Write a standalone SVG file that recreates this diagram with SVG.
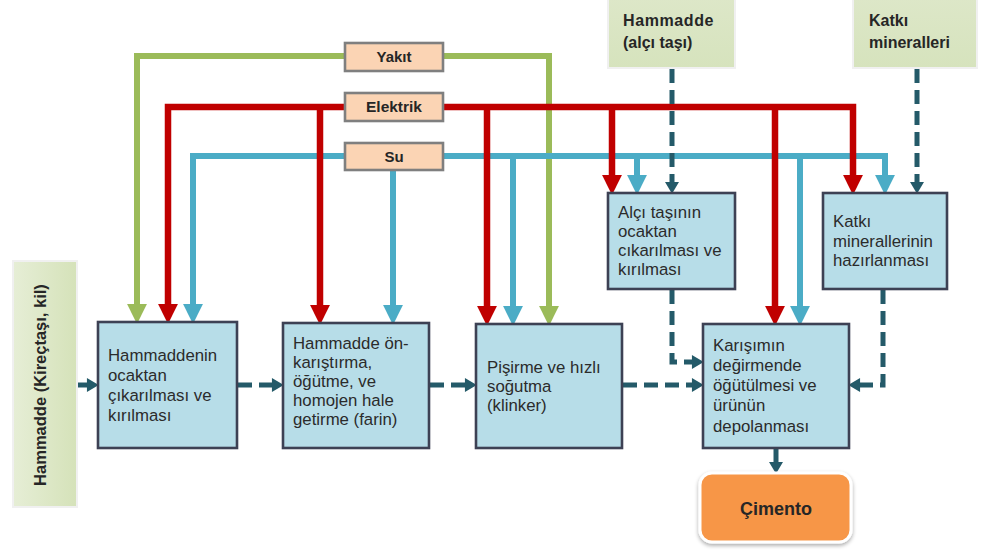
<svg xmlns="http://www.w3.org/2000/svg" width="984" height="551" viewBox="0 0 984 551">
  <defs>
    <linearGradient id="srcFill" x1="0" y1="0" x2="1" y2="0">
      <stop offset="0" stop-color="#e6eed6"/>
      <stop offset="1" stop-color="#d5e2b9"/>
    </linearGradient>
    <linearGradient id="srcFillV" x1="0" y1="0" x2="0" y2="1">
      <stop offset="0" stop-color="#dde7c8"/>
      <stop offset="1" stop-color="#d6e3bd"/>
    </linearGradient>
    <filter id="soft" x="-10%" y="-10%" width="120%" height="130%">
      <feGaussianBlur in="SourceAlpha" stdDeviation="2"/>
      <feOffset dx="0" dy="2"/>
      <feComponentTransfer><feFuncA type="linear" slope="0.35"/></feComponentTransfer>
      <feMerge><feMergeNode/><feMergeNode in="SourceGraphic"/></feMerge>
    </filter>
    <marker id="ahGreen" markerUnits="userSpaceOnUse" markerWidth="20" markerHeight="20" viewBox="0 0 18 18" refX="1" refY="9" orient="auto">
      <path d="M0,0 L18,9 L0,18 z" fill="#9bbb59"/>
    </marker>
    <marker id="ahRed" markerUnits="userSpaceOnUse" markerWidth="20" markerHeight="20" viewBox="0 0 18 18" refX="1" refY="9" orient="auto">
      <path d="M0,0 L18,9 L0,18 z" fill="#c00000"/>
    </marker>
    <marker id="ahBlue" markerUnits="userSpaceOnUse" markerWidth="20" markerHeight="20" viewBox="0 0 18 18" refX="1" refY="9" orient="auto">
      <path d="M0,0 L18,9 L0,18 z" fill="#4bacc6"/>
    </marker>
    <marker id="ahDark" markerUnits="userSpaceOnUse" markerWidth="14" markerHeight="14" viewBox="0 0 11 13" refX="1" refY="6.5" orient="auto">
      <path d="M0,0 L11,6.5 L0,13 z" fill="#245a69"/>
    </marker>
  </defs>
  <style>
    .proc { fill: #b7dde8; stroke: #3d4154; stroke-width: 2.6; }
    .src { stroke: #f0f0f0; stroke-width: 2; }
    .util { fill: #fbd4b4; stroke: #7f7f7f; stroke-width: 2.6; }
    .t { font-family: "Liberation Sans", Arial, sans-serif; font-size: 16.8px; fill: #2b2b2b; }
    .b { font-family: "Liberation Sans", Arial, sans-serif; font-weight: bold; fill: #262626; }
    .green { fill: none; stroke: #9bbb59; stroke-width: 6; marker-end: url(#ahGreen); }
    .red { fill: none; stroke: #c00000; stroke-width: 6.5; marker-end: url(#ahRed); }
    .blue { fill: none; stroke: #4bacc6; stroke-width: 6; marker-end: url(#ahBlue); }
    .flow { fill: none; stroke: #245a69; stroke-width: 5; stroke-dasharray: 14 7; marker-end: url(#ahDark); }
    .solid { fill: none; stroke: #245a69; stroke-width: 5; marker-end: url(#ahDark); }
  </style>

  <rect width="984" height="551" fill="#ffffff"/>

  <!-- utility feed lines: fuel, electricity, water -->
  <g id="connectors">
    <g id="fuel-lines">
      <path class="green" d="M345,56 H137 V305"/>
      <path class="green" d="M443,56 H549 V307"/>
    </g>
    <g id="water-lines">
      <path class="blue" d="M345,156 H193 V305"/>
      <path class="blue" d="M443,156 H885 V176"/>
      <path class="blue" d="M393,170 V306"/>
      <path class="blue" d="M513,156 V307"/>
      <path class="blue" d="M637,156 V176"/>
      <path class="blue" d="M800,156 V307"/>
    </g>
    <g id="power-lines">
      <path class="red" d="M345,107 H168 V305"/>
      <path class="red" d="M443,107 H853 V176"/>
      <path class="red" d="M320,107 V306"/>
      <path class="red" d="M487,107 V307"/>
      <path class="red" d="M612,107 V176"/>
      <path class="red" d="M775,107 V307"/>
    </g>
    <g id="material-flow">
      <path class="solid" d="M78,385 H88"/>
      <path class="flow" d="M238,385 H273"/>
      <path class="flow" d="M430,385 H466"/>
      <path class="flow" d="M623,385 H693"/>
      <path class="flow" d="M672,69 V183"/>
      <path class="flow" d="M917,69 V183"/>
      <path class="flow" d="M672,290 V362 H693"/>
      <path class="flow" d="M883,290 V385 H859"/>
      <path class="solid" d="M776,449 V463"/>
    </g>
  </g>

  <!-- utility labels -->
  <g id="yakit">
    <rect class="util" x="345" y="43" width="98" height="28"/>
    <text class="b" x="394" y="62" font-size="15" text-anchor="middle">Yakıt</text>
  </g>
  <g id="elektrik">
    <rect class="util" x="345" y="93" width="98" height="28"/>
    <text class="b" x="394" y="112" font-size="15.5" text-anchor="middle">Elektrik</text>
  </g>
  <g id="su">
    <rect class="util" x="345" y="143" width="98" height="27"/>
    <text class="b" x="394" y="162" font-size="15" text-anchor="middle">Su</text>
  </g>

  <!-- raw material sources -->
  <g id="hammadde-kirectasi">
    <rect class="src" x="13" y="261" width="64" height="246" fill="url(#srcFill)"/>
    <text class="b" font-size="16.5" text-anchor="middle" transform="translate(46,385) rotate(-90)">Hammadde (Kireçtaşı, kil)</text>
  </g>
  <g id="hammadde-alci">
    <rect class="src" x="608" y="-3" width="127" height="71" fill="url(#srcFillV)"/>
    <text class="b" font-size="16" x="623" y="26" letter-spacing="0.6">Hammadde</text>
    <text class="b" font-size="16" x="623" y="48">(alçı taşı)</text>
  </g>
  <g id="katki-mineralleri">
    <rect class="src" x="853" y="-3" width="124" height="71" fill="url(#srcFillV)"/>
    <text class="b" font-size="16" x="869" y="26">Katkı</text>
    <text class="b" font-size="16" x="869" y="48">mineralleri</text>
  </g>

  <!-- process steps -->
  <g id="hammaddenin-cikarilmasi">
    <rect class="proc" x="98" y="322" width="139" height="126"/>
    <text class="t" x="108" y="361">Hammaddenin</text>
    <text class="t" x="108" y="381">ocaktan</text>
    <text class="t" x="108" y="401">çıkarılması ve</text>
    <text class="t" x="108" y="421">kırılması</text>
  </g>
  <g id="on-karistirma">
    <rect class="proc" x="283" y="323" width="146" height="125"/>
    <text class="t" x="293" y="349">Hammadde ön-</text>
    <text class="t" x="293" y="368">karıştırma,</text>
    <text class="t" x="293" y="387">öğütme, ve</text>
    <text class="t" x="293" y="406">homojen hale</text>
    <text class="t" x="293" y="425">getirme (farin)</text>
  </g>
  <g id="pisirme">
    <rect class="proc" x="476" y="324" width="146" height="124"/>
    <text class="t" x="487" y="373">Pişirme ve hızlı</text>
    <text class="t" x="487" y="392">soğutma</text>
    <text class="t" x="487" y="411">(klinker)</text>
  </g>
  <g id="alci-tasi-cikarilmasi">
    <rect class="proc" x="608" y="193" width="127" height="96"/>
    <text class="t" x="618" y="218">Alçı taşının</text>
    <text class="t" x="618" y="237">ocaktan</text>
    <text class="t" x="618" y="256">cıkarılması ve</text>
    <text class="t" x="618" y="275">kırılması</text>
  </g>
  <g id="katki-hazirlanmasi">
    <rect class="proc" x="823" y="193" width="124" height="96"/>
    <text class="t" x="833" y="227">Katkı</text>
    <text class="t" x="833" y="247">minerallerinin</text>
    <text class="t" x="833" y="266">hazırlanması</text>
  </g>
  <g id="karisim-ogutme">
    <rect class="proc" x="703" y="324" width="146" height="124"/>
    <text class="t" x="713" y="351">Karışımın</text>
    <text class="t" x="713" y="371">değirmende</text>
    <text class="t" x="713" y="391">öğütülmesi ve</text>
    <text class="t" x="713" y="411">ürünün</text>
    <text class="t" x="713" y="432">depolanması</text>
  </g>

  <!-- final product -->
  <g id="cimento">
    <rect x="700" y="473" width="151" height="69" rx="12" fill="#f79646" stroke="#ffffff" stroke-width="3" filter="url(#soft)"/>
    <text class="b" x="776" y="515" font-size="18" text-anchor="middle">Çimento</text>
  </g>
</svg>
